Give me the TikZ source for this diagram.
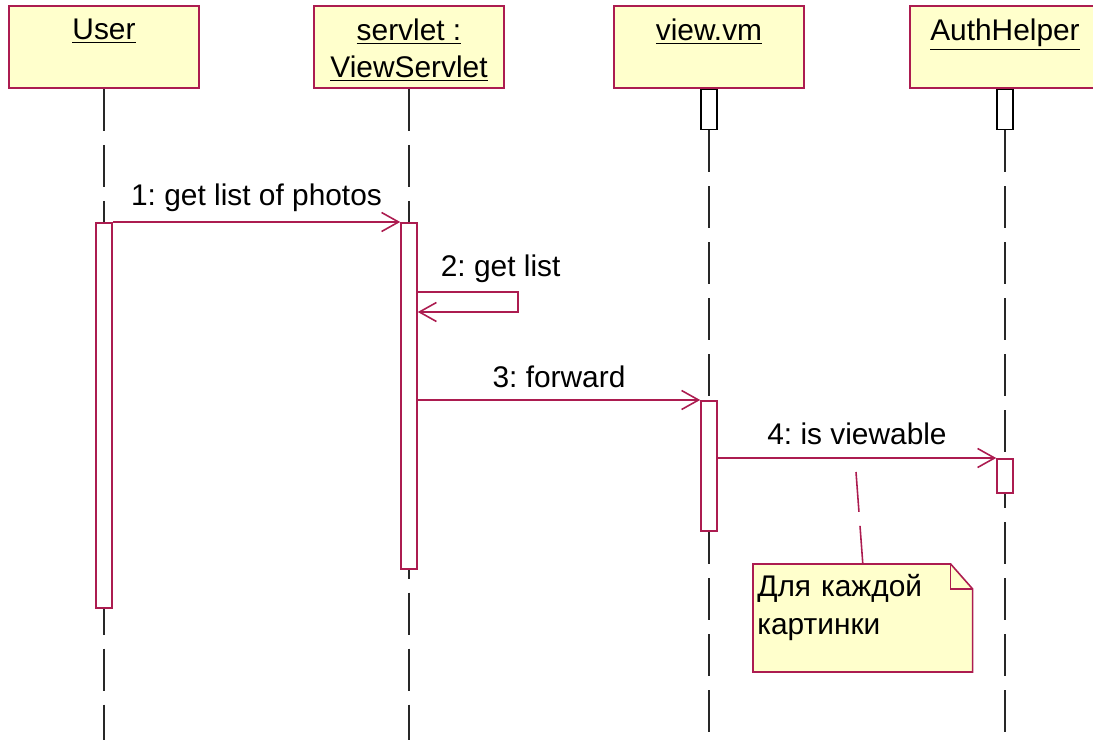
\documentclass[tikz,border=0pt]{standalone}
\usepackage{fontspec}
\setmainfont{Liberation Sans}
\usetikzlibrary{positioning,arrows.meta,backgrounds}
\definecolor{umlred}{RGB}{172,28,80}
\definecolor{umlyellow}{RGB}{255,255,204}
\definecolor{umlline}{RGB}{40,40,40}
\frenchspacing

\begin{document}
\begin{tikzpicture}[x=0.02cm,y=-0.02cm,
		font=\fontsize{17}{21.5}\selectfont,
		head/.style={draw=umlred,fill=umlyellow,line width=0.9pt,minimum width=3.8cm,minimum height=1.64cm,inner sep=0pt},
		headlabel/.style={align=center,inner sep=0pt},
		lifeline/.style={draw=umlline,line width=1pt,dash pattern=on 0.84cm off 0.28cm},
		act/.style={draw=umlred,fill=white,line width=0.9pt,minimum width=0.32cm,inner sep=0pt,anchor=north},
		msg/.style={draw=umlred,line width=0.9pt,-{Straight Barb[length=0.34cm,width=0.38cm]}},
		msglabel/.style={inner sep=2pt},
		notebox/.style={draw=umlred,fill=umlyellow,line width=0.9pt}]
		\useasboundingbox (0,0) rectangle (1093,740);

		% object heads
		\node[head] (user) at (104,47) {};
		\node[headlabel, below=0.26cm of user.north] {\underline{User}};
		\node[head] (servlet) at (409,47) {};
		\node[headlabel, below=0.26cm of servlet.north] {\underline{servlet :}\\\underline{ViewServlet}};
		\node[head] (view) at (709,47) {};
		\node[headlabel, below=0.26cm of view.north] {\underline{view.vm}};
		\node[head] (auth) at (1005,47) {};
		\node[headlabel, below=0.26cm of auth.north] {\underline{AuthHelper}};

		% lifelines
		\node[act, draw=black, minimum height=0.8cm] (vtop) at (view.south) {};
		\node[act, draw=black, minimum height=0.8cm] (atop) at (auth.south) {};
		\draw[lifeline] (user.south) -- (user.south |- 0,740);
		\draw[lifeline] (servlet.south) -- (servlet.south |- 0,740);
		\draw[lifeline] (vtop.south) -- (vtop.south |- 0,740);
		\draw[lifeline] (atop.south) -- (atop.south |- 0,740);

		% activations
		\node[act, minimum height=7.7cm] (a1) at (user.south |- 0,222) {};
		\node[act, minimum height=6.92cm] (a2) at (servlet.south |- 0,222) {};
		\node[act, minimum height=2.6cm] (a3) at (vtop.south |- 0,400) {};
		\node[act, minimum height=0.68cm] (a4) at (atop.south |- 0,458) {};

		% messages
		\draw[msg] (a1.north east) -- node[above=3.5pt,msglabel] {1: get list of photos} (a2.north west);
		\coordinate (s1) at (a2.east |- 0,292);
		\coordinate (s2) at (a2.east |- 0,312);
		\draw[msg] (s1) -- ++(100,0) |- (s2);
		\node[msglabel, anchor=base west] at (437,276) {2: get list};
		\draw[msg] (a2.east |- a3.north) -- node[above=4.5pt,msglabel] {3: forward} (a3.north west);
		\draw[msg] (a3.east |- a4.north) -- node[above=5pt,msglabel] {4: is viewable} (a4.north west);

		% note
		\node[anchor=north west, text width=4.22cm, inner xsep=0.08cm, inner ysep=0.2cm, align=left] (note) at (753,564) {Для каждой\\картинки};
		\begin{scope}[on background layer]
			\draw[notebox] (note.north west) -- ([xshift=-0.44cm]note.north east) -- ([yshift=-0.5cm]note.north east)
				-- ([yshift=-2.16cm]note.north east) -- ([yshift=-2.16cm]note.north west) -- cycle;
			\draw[notebox, fill=none] ([xshift=-0.44cm]note.north east) |- ([yshift=-0.5cm]note.north east);
		\end{scope}
		\coordinate (n4) at (856,472);
		\draw[umlred, line width=0.9pt, dash pattern=on 0.8cm off 0.28cm] (n4) -- (note.north);
\end{tikzpicture}
\end{document}
